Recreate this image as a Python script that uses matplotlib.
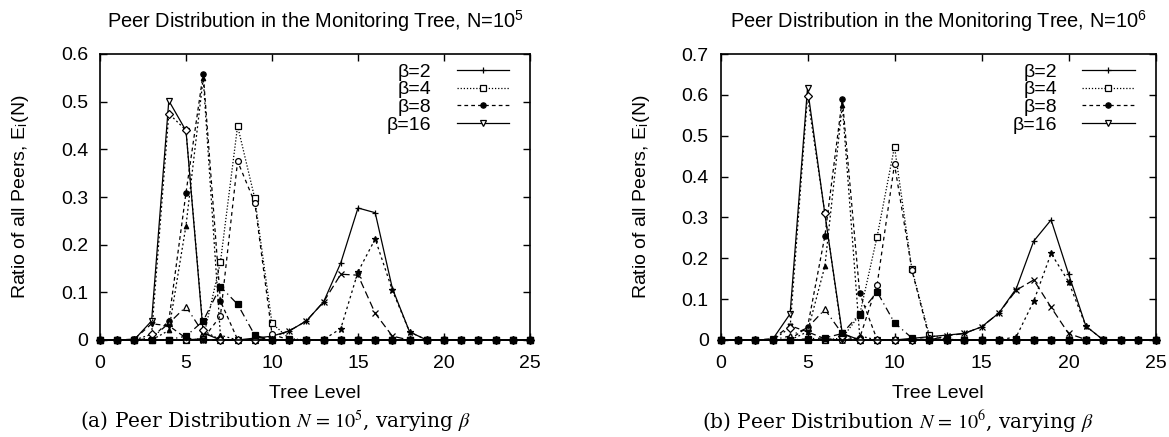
import matplotlib
matplotlib.use("Agg")
import matplotlib.pyplot as plt
from matplotlib.lines import Line2D

plt.rcParams['font.family'] = ['Liberation Sans', 'DejaVu Sans']
plt.rcParams['mathtext.fontset'] = 'stix'

levels = list(range(26))

def full(d):
    return [d.get(i, 0.0) for i in levels]

# ---- N = 10^5 ----
a_plus = full({9: 0.004, 10: 0.008, 11: 0.019, 12: 0.04, 13: 0.08, 14: 0.162, 15: 0.277, 16: 0.267, 17: 0.108, 18: 0.017})
a_x = full({10: 0.006, 11: 0.019, 12: 0.04, 13: 0.08, 14: 0.138, 15: 0.136, 16: 0.056, 17: 0.008})
a_star = full({13: 0.001, 14: 0.024, 15: 0.143, 16: 0.212, 17: 0.104, 18: 0.017})
a_osq = full({6: 0.003, 7: 0.163, 8: 0.449, 9: 0.297, 10: 0.035, 11: 0.003})
a_fsq = full({4: 0.001, 5: 0.008, 6: 0.04, 7: 0.112, 8: 0.075, 9: 0.01})
a_ocirc = full({6: 0.003, 7: 0.05, 8: 0.375, 9: 0.288, 10: 0.012})
a_fcirc = full({3: 0.003, 4: 0.04, 5: 0.309, 6: 0.559, 7: 0.082, 8: 0.001})
a_otri = full({3: 0.004, 4: 0.035, 5: 0.07, 6: 0.015, 7: 0.001})
a_ftri = full({4: 0.02, 5: 0.24, 6: 0.549, 7: 0.01})
a_odtri = full({2: 0.001, 3: 0.04, 4: 0.502, 5: 0.439, 6: 0.015})
a_fdtri = full({2: 0.002, 3: 0.034, 4: 0.03, 5: 0.004})
a_diam = full({3: 0.012, 4: 0.475, 5: 0.44, 6: 0.02})

# ---- N = 10^6 ----
b_plus = full({11: 0.004, 12: 0.008, 13: 0.012, 14: 0.016, 15: 0.032, 16: 0.066, 17: 0.126, 18: 0.242, 19: 0.294, 20: 0.162, 21: 0.034})
b_x = full({13: 0.01, 14: 0.016, 15: 0.032, 16: 0.066, 17: 0.122, 18: 0.147, 19: 0.08, 20: 0.016, 21: 0.001})
b_star = full({17: 0.008, 18: 0.095, 19: 0.212, 20: 0.143, 21: 0.034})
b_osq = full({7: 0.005, 8: 0.062, 9: 0.253, 10: 0.473, 11: 0.173, 12: 0.012, 13: 0.002})
b_fsq = full({5: 0.003, 6: 0.005, 7: 0.016, 8: 0.064, 9: 0.118, 10: 0.042, 11: 0.005})
b_ocirc = full({8: 0.005, 9: 0.135, 10: 0.43, 11: 0.171, 12: 0.005})
b_fcirc = full({4: 0.002, 5: 0.031, 6: 0.255, 7: 0.59, 8: 0.114, 9: 0.001})
b_otri = full({4: 0.01, 5: 0.03, 6: 0.075, 7: 0.015})
b_ftri = full({5: 0.02, 6: 0.181, 7: 0.575, 8: 0.01})
b_odtri = full({3: 0.002, 4: 0.064, 5: 0.616, 6: 0.308, 7: 0.016})
b_fdtri = full({3: 0.003, 4: 0.035, 5: 0.02, 6: 0.003})
b_diam = full({4: 0.03, 5: 0.597, 6: 0.31, 7: 0.01})

legend_labels = ['β=2', 'β=4', 'β=8', 'β=16']
titles = ['Peer Distribution in the Monitoring Tree, N=10$^\\mathregular{5}$',
          'Peer Distribution in the Monitoring Tree, N=10$^\\mathregular{6}$']
captions = ['(a) Peer Distribution $N\\,=\\,10^5$, varying $\\beta$',
            '(b) Peer Distribution $N\\,=\\,10^6$, varying $\\beta$']
ymaxes = [0.6, 0.7]
xticks = [0, 5, 10, 15, 20, 25]

# style: (marker, filled, linestyle, markersize)
styles = {
    'plus':  ('+', True, '-', 5),
    'x':     ('x', True, (0, (6, 3)), 4.5),
    'star':  ('*', True, (0, (2, 2.5)), 5),
    'osq':   ('s', False, (0, (1, 1.5)), 4.4),
    'fsq':   ('s', True, (0, (6, 3, 1, 3)), 5.0),
    'ocirc': ('o', False, (0, (3, 3)), 4.2),
    'fcirc': ('o', True, (0, (3, 2.5)), 3.8),
    'otri':  ('^', False, (0, (6, 3, 1, 3)), 4.2),
    'ftri':  ('^', True, (0, (1.5, 2)), 3.2),
    'odtri': ('v', False, '-', 4.5),
    'fdtri': ('v', True, (0, (4, 3)), 3.5),
    'diam':  ('D', False, (0, (1.5, 2)), 3.6),
}

panels = [
    {'plus': a_plus, 'x': a_x, 'star': a_star, 'osq': a_osq, 'ocirc': a_ocirc,
     'fcirc': a_fcirc, 'otri': a_otri, 'ftri': a_ftri, 'odtri': a_odtri,
     'fdtri': a_fdtri, 'diam': a_diam, 'fsq': a_fsq},
    {'plus': b_plus, 'x': b_x, 'star': b_star, 'osq': b_osq, 'ocirc': b_ocirc,
     'fcirc': b_fcirc, 'otri': b_otri, 'ftri': b_ftri, 'odtri': b_odtri,
     'fdtri': b_fdtri, 'diam': b_diam, 'fsq': b_fsq},
]

W, H = 1169, 437
fig = plt.figure(figsize=(W / 100, H / 100), dpi=100)
rects = [[100 / W, 1 - 340 / H, 430 / W, 286 / H],
         [720.5 / W, 1 - 340 / H, 435 / W, 286 / H]]
cap_x = [275 / W, 898 / W]
ylab_x = [-0.16, -0.158]

fs = 14
for i, data in enumerate(panels):
    ax = fig.add_axes(rects[i])
    for key, vals in data.items():
        m, filled, ls, ms = styles[key]
        ax.plot(levels, vals, color='black', lw=0.9, linestyle=ls, marker=m,
                markersize=ms, markerfacecolor='black' if filled else 'white',
                markeredgecolor='black', markeredgewidth=0.9, clip_on=False)
    ax.set_xlim(0, 25)
    ax.set_ylim(0, ymaxes[i])
    ax.set_xticks(xticks)
    yt = [round(0.1 * k, 1) for k in range(int(round(ymaxes[i] * 10)) + 1)]
    ax.set_yticks(yt)
    ax.set_yticklabels(['0' if v == 0 else f'{v:g}' for v in yt])
    ax.tick_params(direction='in', top=True, right=True, length=5, width=1,
                   labelsize=fs)
    ax.tick_params(axis='x', pad=10.5)
    ax.tick_params(axis='y', pad=8.5)
    for s in ax.spines.values():
        s.set_linewidth(1.2)
    ax.set_xlabel('Tree Level', fontsize=fs, labelpad=10)
    ax.set_ylabel('Ratio of all Peers, E$_\\mathregular{i}$(N)', fontsize=fs)
    ax.yaxis.set_label_coords(ylab_x[i], 0.5)
    ax.set_title(titles[i], fontsize=14.4, pad=19)

    handles = []
    for key in ['plus', 'osq', 'fcirc', 'odtri']:
        m, filled, ls, ms = styles[key]
        handles.append(Line2D([], [], color='black', lw=0.9, linestyle=ls, marker=m,
                              markersize=ms, markerfacecolor='black' if filled else 'white',
                              markeredgecolor='black', markeredgewidth=0.9))
    ax.legend(handles, legend_labels, loc='upper right', bbox_to_anchor=(0.97, 0.995),
              frameon=False, markerfirst=False, numpoints=1, handlelength=2.7,
              handletextpad=1.3, labelspacing=0.0, borderaxespad=0.0, fontsize=fs)

    fig.text(cap_x[i], 1 - 422 / H, captions[i], ha='center', va='center',
             fontsize=14.5, family=['DejaVu Serif'])

fig.savefig('out.png', dpi=100)
